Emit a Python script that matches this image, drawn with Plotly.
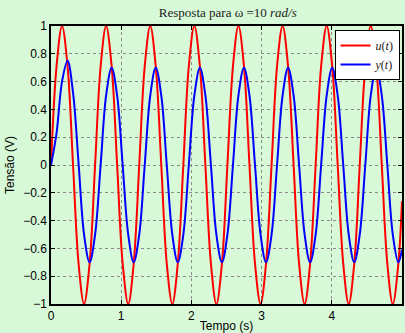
import plotly.graph_objects as go

# Time samples (s) (1/8-period spacing of the 10 rad/s wave)
time_s = [0.000, 0.079, 0.157, 0.236, 0.314, 0.393, 0.471, 0.550,
          0.628, 0.707, 0.785, 0.864, 0.942, 1.021, 1.100, 1.178,
          1.257, 1.335, 1.414, 1.492, 1.571, 1.649, 1.728, 1.806,
          1.885, 1.963, 2.042, 2.121, 2.199, 2.278, 2.356, 2.435,
          2.513, 2.592, 2.670, 2.749, 2.827, 2.906, 2.985, 3.063,
          3.142, 3.220, 3.299, 3.377, 3.456, 3.534, 3.613, 3.691,
          3.770, 3.848, 3.927, 4.006, 4.084, 4.163, 4.241, 4.320,
          4.398, 4.477, 4.555, 4.634, 4.712, 4.791, 4.869, 4.948,
          5.000]

# Input u(t)
u_vals = [0, 0.71, 1, 0.71, 0, -0.71, -1, -0.71,
          0, 0.71, 1, 0.71, 0, -0.71, -1, -0.71,
          0, 0.71, 1, 0.71, 0, -0.71, -1, -0.71,
          0, 0.71, 1, 0.71, 0, -0.71, -1, -0.71,
          0, 0.71, 1, 0.71, 0, -0.71, -1, -0.71,
          0, 0.71, 1, 0.71, 0, -0.71, -1, -0.71,
          0, 0.71, 1, 0.71, 0, -0.71, -1, -0.71,
          0, 0.71, 1, 0.71, 0, -0.71, -1, -0.71,
          -0.26]

# Output y(t)
y_vals = [0, 0.23, 0.60, 0.75, 0.52, 0.01, -0.50, -0.70,
          -0.50, 0, 0.50, 0.70, 0.50, 0, -0.50, -0.70,
          -0.50, 0, 0.50, 0.70, 0.50, 0, -0.50, -0.70,
          -0.50, 0, 0.50, 0.70, 0.50, 0, -0.50, -0.70,
          -0.50, 0, 0.50, 0.70, 0.50, 0, -0.50, -0.70,
          -0.50, 0, 0.50, 0.70, 0.50, 0, -0.50, -0.70,
          -0.50, 0, 0.50, 0.70, 0.50, 0, -0.50, -0.70,
          -0.50, 0, 0.50, 0.70, 0.50, 0, -0.50, -0.70,
          -0.61]

x_ticks = [0, 1, 2, 3, 4, 5]
y_ticks = [-1, -0.8, -0.6, -0.4, -0.2, 0, 0.2, 0.4, 0.6, 0.8, 1]
y_tick_text = ["\u22121", "\u22120.8", "\u22120.6", "\u22120.4", "\u22120.2", "0",
               "0.2", "0.4", "0.6", "0.8", "1"]

BG = "#d7f9d7"
serif = "Liberation Serif, DejaVu Serif, serif"
sans = "Liberation Sans, Arial, sans-serif"

fig = go.Figure()
fig.add_trace(go.Scatter(x=time_s, y=u_vals, mode="lines", name="<i>u</i>(<i>t</i>)",
                         line=dict(color="#ff0000", width=2, shape="spline")))
fig.add_trace(go.Scatter(x=time_s, y=y_vals, mode="lines", name="<i>y</i>(<i>t</i>)",
                         line=dict(color="#0000ff", width=2, shape="spline")))

axis_common = dict(showline=True, linecolor="black", linewidth=1.5, mirror="ticks",
                   ticks="inside", ticklen=4, tickcolor="black",
                   showgrid=True, gridcolor="#8a8a8a", griddash="dot", gridwidth=1,
                   zeroline=False, tickfont=dict(family=sans, size=12, color="black"))

fig.update_layout(
    width=405, height=333,
    margin=dict(l=51, r=1, t=26, b=29),
    paper_bgcolor=BG, plot_bgcolor=BG,
    title=dict(text="Resposta para \u03c9 =10 <i>rad/s</i>", x=0.5625, xanchor="center",
               y=0.962, yanchor="middle", font=dict(family=serif, size=13, color="#222")),
    xaxis=dict(range=[0, 5], tickvals=x_ticks, ticktext=[str(v) for v in x_ticks],
               title=dict(text="Tempo (s)", font=dict(family=sans, size=12, color="black"),
                          standoff=0),
               **axis_common),
    yaxis=dict(range=[-1, 1], tickvals=y_ticks, ticktext=y_tick_text,
               title=dict(text="Tensão (V)", font=dict(family=sans, size=12, color="black"),
                          standoff=6),
               **axis_common),
    legend=dict(x=0.993, y=0.986, xanchor="right", yanchor="top",
                bgcolor="white", bordercolor="black", borderwidth=1,
                font=dict(family=serif, size=12, color="#222"),
                itemwidth=30, tracegroupgap=0),
    showlegend=True,
)

fig.write_html("out.html", config={"displayModeBar": False},
               post_script="document.body.style.margin='0';document.body.style.background='%s';" % BG)
